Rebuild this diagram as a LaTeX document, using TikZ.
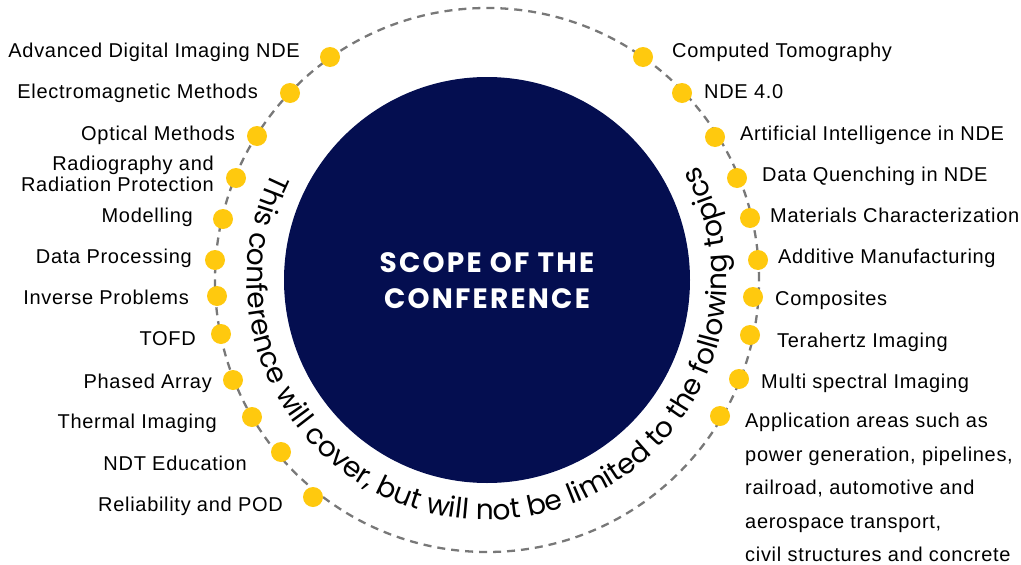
\documentclass[tikz,border=0pt]{standalone}
\usepackage{fontspec}
\setmainfont{Liberation Sans}[LetterSpace=3.5]
\newfontfamily\arcfont{Poppins}
\newfontfamily\titlefont{Poppins}[LetterSpace=8]
\usetikzlibrary{decorations.text}
\definecolor{scopenavy}{RGB}{4,14,80}
\definecolor{topicgold}{RGB}{255,201,14}
\definecolor{ringgray}{RGB}{120,120,120}

\begin{document}
\begin{tikzpicture}[x=1pt, y=1pt,
	topic/.style={font=\fontsize{20}{21}\selectfont, inner sep=0pt},
	bullet/.style={circle, fill=topicgold, minimum size=20pt, inner sep=0pt}]
				\useasboundingbox (0,0) rectangle (1021,-565);
				% dashed ring and the core
				\draw [ringgray, line width=2.3pt, dash pattern=on 8pt off 6pt] (487,-280) circle [radius=272];
				\fill [scopenavy] (487,-280) circle [radius=203];
				\node [align=center, text=white, font=\titlefont\bfseries\fontsize{28}{36}\selectfont] (core) at (487,-281) {SCOPE OF THE\\CONFERENCE};
				
				% text round the core
				\path [decorate, decoration={text along path, text align=center,
					text={|\arcfont\fontsize{28}{28}\selectfont|This conference will cover{,} but will not be limited to the following topics}}]
					(487,-280) ++(152:240) arc [start angle=152, end angle=390, radius=240];
				
				% left bullets
				\node [bullet] (dl1) at (330,-57) {};
				\node [bullet] (dl2) at (290,-93) {};
				\node [bullet] (dl3) at (257,-136) {};
				\node [bullet] (dl4) at (236,-178) {};
				\node [bullet] (dl5) at (223,-219) {};
				\node [bullet] (dl6) at (215,-260) {};
				\node [bullet] (dl7) at (217,-296) {};
				\node [bullet] (dl8) at (221,-334) {};
				\node [bullet] (dl9) at (233,-380) {};
				\node [bullet] (dl10) at (252,-417) {};
				\node [bullet] (dl11) at (281,-452) {};
				\node [bullet] (dl12) at (313,-497) {};
				
				% right bullets
				\node [bullet] (dr1) at (643,-57) {};
				\node [bullet] (dr2) at (682,-93) {};
				\node [bullet] (dr3) at (715,-137) {};
				\node [bullet] (dr4) at (737,-178) {};
				\node [bullet] (dr5) at (750,-218) {};
				\node [bullet] (dr6) at (758,-260) {};
				\node [bullet] (dr7) at (753,-297) {};
				\node [bullet] (dr8) at (750,-335) {};
				\node [bullet] (dr9) at (739,-379) {};
				\node [bullet] (dr10) at (720,-416) {};
				
				% left topics
				\node [topic, anchor=base east] (tl1) at (300,-57) {Advanced Digital Imaging NDE};
				\node [topic, anchor=base east] (tl2) at (258,-98) {Electromagnetic Methods};
				\node [topic, anchor=base east] (tl3) at (235,-140) {Optical Methods};
				\node [topic, anchor=north east, align=right] (tl4) at (214,-156) {Radiography and\\Radiation Protection};
				\node [topic, anchor=base east] (tl5) at (193,-222) {Modelling};
				\node [topic, anchor=base east] (tl6) at (192,-263) {Data Processing};
				\node [topic, anchor=base east] (tl7) at (189,-304) {Inverse Problems};
				\node [topic, anchor=base east] (tl8) at (196,-345) {TOFD};
				\node [topic, anchor=base east] (tl9) at (212,-388) {Phased Array};
				\node [topic, anchor=base east] (tl10) at (217,-428) {Thermal Imaging};
				\node [topic, anchor=base east] (tl11) at (247,-470) {NDT Education};
				\node [topic, anchor=base east] (tl12) at (283,-511) {Reliability and POD};
				
				% right topics
				\node [topic, anchor=base west] (tr1) at (672,-57) {Computed Tomography};
				\node [topic, anchor=base west] (tr2) at (704,-98) {NDE 4.0};
				\node [topic, anchor=base west] (tr3) at (740,-140) {Artificial Intelligence in NDE};
				\node [topic, anchor=base west] (tr4) at (762,-181) {Data Quenching in NDE};
				\node [topic, anchor=base west] (tr5) at (770,-222) {Materials Characterization};
				\node [topic, anchor=base west] (tr6) at (778,-263) {Additive Manufacturing};
				\node [topic, anchor=base west] (tr7) at (775,-305) {Composites};
				\node [topic, anchor=base west] (tr8) at (777,-347) {Terahertz Imaging};
				\node [topic, anchor=base west] (tr9) at (761,-388) {Multi spectral Imaging};
				\node [topic, anchor=north west, align=left, font=\fontsize{20}{33.5}\selectfont] (tr10) at (745,-413) {Application areas such as\\power generation, pipelines,\\railroad, automotive and\\aerospace transport,\\civil structures and concrete};
\end{tikzpicture}
\end{document}
